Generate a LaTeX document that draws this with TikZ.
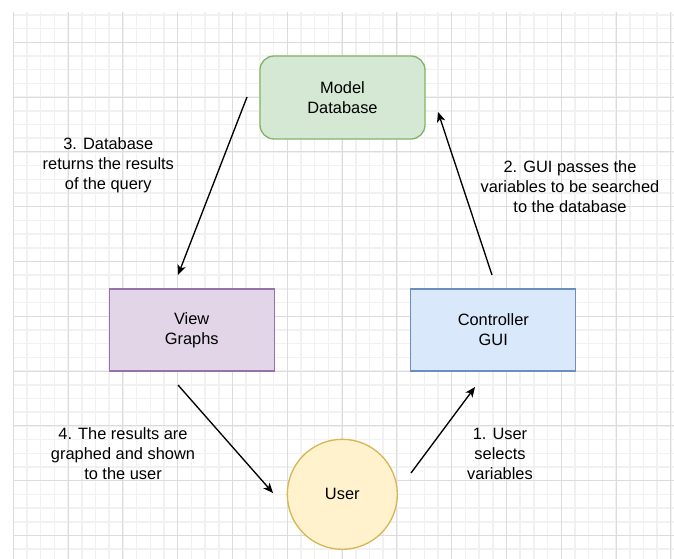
\documentclass[tikz,border=0pt]{standalone}
\usepackage{fontspec}
\setmainfont{Liberation Sans}
\usetikzlibrary{arrows.meta,shapes.geometric}
\usepackage{xcolor}

\definecolor{gridminor}{HTML}{F1F1F1}
\definecolor{gridmajor}{HTML}{DCDCDC}
\definecolor{modelfill}{HTML}{D5E8D4}
\definecolor{modeldraw}{HTML}{82B366}
\definecolor{viewfill}{HTML}{E1D5E7}
\definecolor{viewdraw}{HTML}{9673A6}
\definecolor{ctrlfill}{HTML}{DAE8FC}
\definecolor{ctrldraw}{HTML}{6C8EBF}
\definecolor{userfill}{HTML}{FFF2CC}
\definecolor{userdraw}{HTML}{D6B656}

\begin{document}
\begin{tikzpicture}[x=0.75pt, y=-0.75pt,
  part/.style={draw, line width=1pt, inner sep=0pt, align=center,
    minimum width=123.75pt, minimum height=61.5pt, font=\fontsize{12.3}{15}\selectfont},
  stepnote/.style={align=center, font=\fontsize{12.3}{15}\selectfont},
  flow/.style={line width=1pt, -{Stealth[length=7.5pt, width=6.4pt, inset=2pt]}}
]
\useasboundingbox (0,0) rectangle (674,559);

% background grid
\begin{scope}
\clip (13,12) rectangle (674,559);
\foreach \i in {0,...,48}
  \draw[gridminor, line width=1.1pt] ({13.3+13.7*\i},12) -- ({13.3+13.7*\i},559);
\foreach \j in {-2,...,38}
  \draw[gridminor, line width=1.1pt] (13,{42.3+13.7*\j}) -- (674,{42.3+13.7*\j});
\foreach \i in {0,...,12}
  \draw[gridmajor, line width=0.75pt] ({13.3+54.8*\i},12) -- ({13.3+54.8*\i},559);
\foreach \j in {0,...,10}
  \draw[gridmajor, line width=0.75pt] (13,{-12.5+54.8*\j}) -- (674,{-12.5+54.8*\j});
\end{scope}

\node[part, fill=modelfill, draw=modeldraw, rounded corners=10.5pt, minimum height=62.25pt] (model) at (342.5,97.5) {Model\\Database};
\node[part, fill=viewfill, draw=viewdraw] (view) at (191.7,330) {View\\Graphs};
\node[part, fill=ctrlfill, draw=ctrldraw] (ctrl) at (493.3,330) {Controller\\GUI};
\node[part, circle, fill=userfill, draw=userdraw, minimum size=82.5pt] (user) at (342.3,494.3) {User};

\coordinate (model-out) at (247,97);
\coordinate (view-in) at (178,275);
\coordinate (view-out) at (178,385);
\coordinate (user-in) at (273,493);
\coordinate (user-out) at (411,473);
\coordinate (ctrl-in) at (475,387);
\coordinate (ctrl-out) at (492,275);
\coordinate (model-in) at (438,112);

\draw[flow] (user-out) -- (ctrl-in);
\draw[flow] (ctrl-out) -- (model-in);
\draw[flow] (model-out) -- (view-in);
\draw[flow] (view-out) -- (user-in);

\node[stepnote] (n1) at (500,453.5) {1. User\\selects\\variables};
\node[stepnote] (n2) at (570,186.5) {2. GUI passes the\\variables to be searched\\to the database};
\node[stepnote] (n3) at (108.3,165.5) {3. Database\\returns the results\\of the query};
\node[stepnote] (n4) at (123,453.5) {4. The results are\\graphed and shown\\to the user};

\end{tikzpicture}
\end{document}
